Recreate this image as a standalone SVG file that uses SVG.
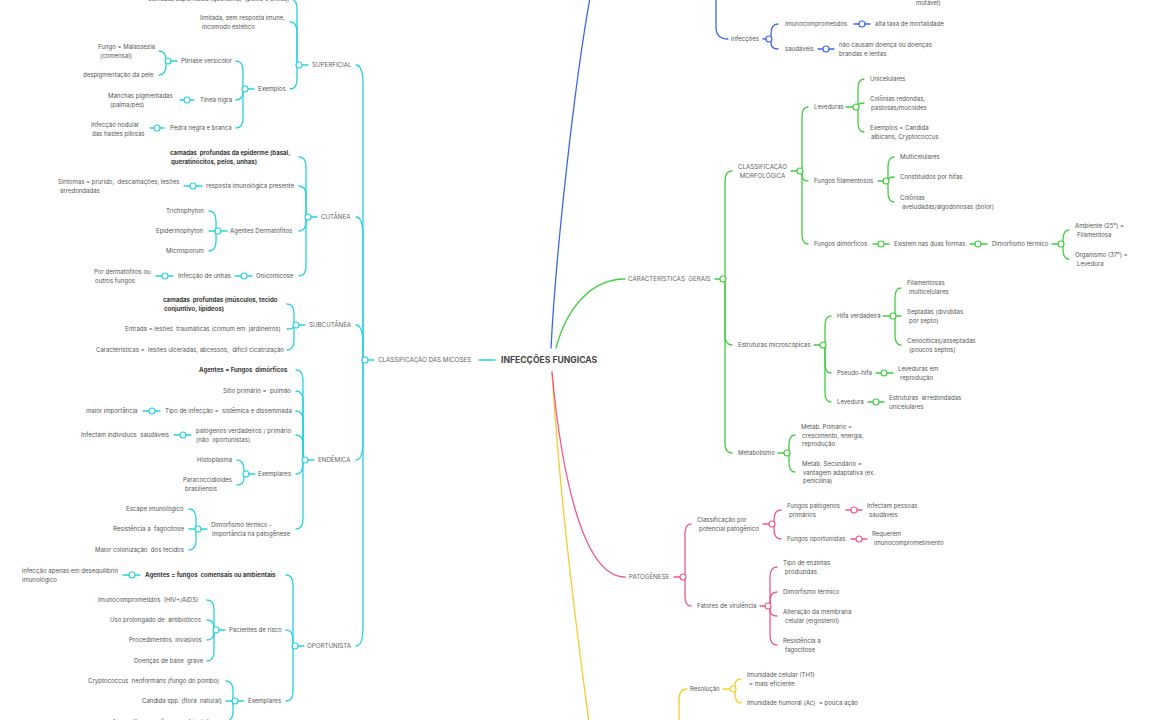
<svg xmlns="http://www.w3.org/2000/svg" width="1150" height="720" viewBox="0 0 1150 720">
<style>
text{font-family:Inter,"Liberation Sans",sans-serif;font-size:6.05px;fill:#555;white-space:pre}
.b{font-weight:bold;fill:#3a3a3a}
.u{font-size:6.2px;fill:#666}
.title{font-size:8.6px;font-weight:bold;fill:#444}
path,line{fill:none;stroke-width:1.3;stroke-linecap:round}
.c{stroke:#27d3de}.bl{stroke:#3b67f0}.g{stroke:#3fcf3f}.p{stroke:#f2588b}.y{stroke:#f8cb2c}
circle{fill:#fff;stroke-width:1.2}
</style>
<rect width="1150" height="720" fill="#fff"/>
<g id="connectors">
<path class="bl" d="M551 348 C556 250 575 80 590 -2"/>
<path class="g" d="M556 348 C566 310 590 279 625 279"/>
<path class="y" d="M552 372 C560 500 575 620 589 722"/>
<path class="p" d="M552 372 C560 460 580 577 625 577"/>
<line class="c" x1="479" y1="360" x2="495" y2="360"/>
<path class="c" d="M356 65 Q363 65 363 85 L363 360"/>
<path class="c" d="M356 217 Q363 217 363 237 L363 360"/>
<path class="c" d="M356 325 Q363 325 363 345 L363 360"/>
<path class="c" d="M356 460 Q363 460 363 440 L363 360"/>
<path class="c" d="M356 646 Q363 646 363 626 L363 360"/>
<line class="c" x1="368" y1="360" x2="374" y2="360"/>
<path class="c" d="M290 -1 Q297 -1 297 9 L297 65"/>
<path class="c" d="M290 22 Q297 22 297 32 L297 65"/>
<path class="c" d="M290 89 Q297 89 297 79 L297 65"/>
<line class="c" x1="302" y1="65" x2="308" y2="65"/>
<path class="c" d="M236 61 Q243 61 243 71 L243 89"/>
<path class="c" d="M236 100 Q243 100 243 91 L243 89"/>
<path class="c" d="M236 128 Q243 128 243 118 L243 89"/>
<line class="c" x1="248" y1="89" x2="254" y2="89"/>
<path class="c" d="M159 51 Q166 51 166 61"/>
<path class="c" d="M159 75 Q166 75 166 65 L166 61"/>
<line class="c" x1="171" y1="61" x2="177" y2="61"/>
<line class="c" x1="180" y1="100" x2="194" y2="100"/>
<line class="c" x1="150" y1="128" x2="164" y2="128"/>
<path class="c" d="M299 157 Q306 157 306 167 L306 217"/>
<path class="c" d="M299 186 Q306 186 306 196 L306 217"/>
<path class="c" d="M299 231 Q306 231 306 221 L306 217"/>
<path class="c" d="M299 276 Q306 276 306 266 L306 217"/>
<line class="c" x1="311" y1="217" x2="317" y2="217"/>
<line class="c" x1="184" y1="186" x2="202" y2="186"/>
<path class="c" d="M209 211 Q216 211 216 221 L216 231"/>
<line class="c" x1="209" y1="231" x2="216" y2="231"/>
<path class="c" d="M209 251 Q216 251 216 241 L216 231"/>
<line class="c" x1="221" y1="231" x2="227" y2="231"/>
<line class="c" x1="235" y1="276" x2="252" y2="276"/>
<line class="c" x1="156" y1="276" x2="173" y2="276"/>
<path class="c" d="M287 304 Q294 304 294 314 L294 325"/>
<path class="c" d="M287 329 Q294 329 294 326 L294 325"/>
<path class="c" d="M287 350 Q294 350 294 340 L294 325"/>
<line class="c" x1="299" y1="325" x2="305" y2="325"/>
<path class="c" d="M296 370 Q303 370 303 380 L303 460"/>
<path class="c" d="M296 391 Q303 391 303 401 L303 460"/>
<path class="c" d="M296 411 Q303 411 303 421 L303 460"/>
<path class="c" d="M296 435 Q303 435 303 445 L303 460"/>
<path class="c" d="M296 474 Q303 474 303 464 L303 460"/>
<path class="c" d="M296 529 Q303 529 303 519 L303 460"/>
<line class="c" x1="308" y1="460" x2="314" y2="460"/>
<line class="c" x1="143" y1="411" x2="160" y2="411"/>
<line class="c" x1="174" y1="435" x2="191" y2="435"/>
<path class="c" d="M237 460 Q244 460 244 470 L244 474"/>
<path class="c" d="M237 485 Q244 485 244 478 L244 474"/>
<line class="c" x1="249" y1="474" x2="255" y2="474"/>
<path class="c" d="M189 509 Q196 509 196 519 L196 529"/>
<line class="c" x1="189" y1="529" x2="196" y2="529"/>
<path class="c" d="M189 550 Q196 550 196 540 L196 529"/>
<line class="c" x1="201" y1="529" x2="207" y2="529"/>
<path class="c" d="M286 575 Q293 575 293 585 L293 646"/>
<path class="c" d="M286 630 Q293 630 293 640 L293 646"/>
<path class="c" d="M286 701 Q293 701 293 691 L293 646"/>
<line class="c" x1="298" y1="646" x2="304" y2="646"/>
<line class="c" x1="123" y1="575" x2="140" y2="575"/>
<path class="c" d="M207 600 Q214 600 214 610 L214 630"/>
<path class="c" d="M207 620 Q214 620 214 628 L214 630"/>
<path class="c" d="M207 640 Q214 640 214 632 L214 630"/>
<path class="c" d="M207 661 Q214 661 214 651 L214 630"/>
<line class="c" x1="219" y1="630" x2="225" y2="630"/>
<path class="c" d="M226 681 Q233 681 233 691 L233 701"/>
<line class="c" x1="226" y1="701" x2="233" y2="701"/>
<path class="c" d="M226 721 Q233 721 233 711 L233 701"/>
<line class="c" x1="238" y1="701" x2="244" y2="701"/>
<path class="bl" d="M907 -12 L907 -6 Q907 -1 914 -1"/>
<path class="bl" d="M716 -2 L716 27 Q716 39 728 39"/>
<line class="bl" x1="763" y1="39" x2="766" y2="39"/>
<path class="bl" d="M778 24 Q771 24 771 34 L771 39"/>
<path class="bl" d="M778 49 Q771 49 771 43 L771 39"/>
<line class="bl" x1="854" y1="24" x2="870" y2="24"/>
<line class="bl" x1="818" y1="49" x2="834" y2="49"/>
<line class="g" x1="715" y1="279" x2="720" y2="279"/>
<path class="g" d="M732 171 Q725 171 725 181 L725 279"/>
<path class="g" d="M732 345 Q725 345 725 335 L725 279"/>
<path class="g" d="M732 453 Q725 453 725 443 L725 279"/>
<line class="g" x1="791" y1="171" x2="797" y2="171"/>
<path class="g" d="M808 107 Q802 107 802 117 L802 171"/>
<path class="g" d="M808 181 Q802 181 802 175 L802 171"/>
<path class="g" d="M808 244 Q802 244 802 234 L802 171"/>
<line class="g" x1="846" y1="107" x2="853" y2="107"/>
<path class="g" d="M864 79 Q858 79 858 89 L858 107"/>
<path class="g" d="M864 103 Q858 103 858 106 L858 107"/>
<path class="g" d="M864 132 Q858 132 858 122 L858 107"/>
<line class="g" x1="878" y1="181" x2="883" y2="181"/>
<path class="g" d="M894 157 Q888 157 888 167 L888 181"/>
<path class="g" d="M894 177 Q888 177 888 180 L888 181"/>
<path class="g" d="M894 202 Q888 202 888 192 L888 181"/>
<line class="g" x1="873" y1="244" x2="889" y2="244"/>
<line class="g" x1="970" y1="244" x2="987" y2="244"/>
<line class="g" x1="1052" y1="244" x2="1058" y2="244"/>
<path class="g" d="M1069 230 Q1063 230 1063 240 L1063 244"/>
<path class="g" d="M1069 259 Q1063 259 1063 249 L1063 244"/>
<line class="g" x1="814" y1="345" x2="820" y2="345"/>
<path class="g" d="M831 316 Q825 316 825 326 L825 345"/>
<path class="g" d="M831 373 Q825 373 825 363 L825 345"/>
<path class="g" d="M831 402 Q825 402 825 392 L825 345"/>
<line class="g" x1="883" y1="316" x2="890" y2="316"/>
<path class="g" d="M901 288 Q895 288 895 298 L895 316"/>
<line class="g" x1="895" y1="316" x2="901" y2="316"/>
<path class="g" d="M901 345 Q895 345 895 335 L895 316"/>
<line class="g" x1="876" y1="373" x2="893" y2="373"/>
<line class="g" x1="868" y1="402" x2="884" y2="402"/>
<line class="g" x1="778" y1="453" x2="784" y2="453"/>
<path class="g" d="M795 435 Q789 435 789 445 L789 453"/>
<path class="g" d="M795 472 Q789 472 789 462 L789 453"/>
<line class="p" x1="674" y1="577" x2="680" y2="577"/>
<path class="p" d="M691 524 Q685 524 685 534 L685 577"/>
<path class="p" d="M691 606 Q685 606 685 596 L685 577"/>
<line class="p" x1="763" y1="524" x2="769" y2="524"/>
<path class="p" d="M781 510 Q774 510 774 520 L774 524"/>
<path class="p" d="M781 539 Q774 539 774 529 L774 524"/>
<line class="p" x1="846" y1="510" x2="862" y2="510"/>
<line class="p" x1="851" y1="539" x2="867" y2="539"/>
<line class="p" x1="760" y1="606" x2="765" y2="606"/>
<path class="p" d="M777 567 Q770 567 770 577 L770 606"/>
<path class="p" d="M777 592 Q770 592 770 602 L770 606"/>
<path class="p" d="M777 616 Q770 616 770 610 L770 606"/>
<path class="p" d="M777 645 Q770 645 770 635 L770 606"/>
<path class="y" d="M679 722 L679 700 Q679 689 687 689"/>
<line class="y" x1="723" y1="689" x2="730" y2="689"/>
<path class="y" d="M741 679 Q735 679 735 685 L735 689"/>
<path class="y" d="M741 703 Q735 703 735 693 L735 689"/>
</g>
<g id="junctions">
<circle class="c" cx="365" cy="360" r="3"/>
<circle class="c" cx="299" cy="65" r="3"/>
<circle class="c" cx="245" cy="89" r="3"/>
<circle class="c" cx="168" cy="61" r="3"/>
<circle class="c" cx="187" cy="100" r="3"/>
<circle class="c" cx="157" cy="128" r="3"/>
<circle class="c" cx="308" cy="217" r="3"/>
<circle class="c" cx="193" cy="186" r="3"/>
<circle class="c" cx="218" cy="231" r="3"/>
<circle class="c" cx="244" cy="276" r="3"/>
<circle class="c" cx="165" cy="276" r="3"/>
<circle class="c" cx="296" cy="325" r="3"/>
<circle class="c" cx="305" cy="460" r="3"/>
<circle class="c" cx="152" cy="411" r="3"/>
<circle class="c" cx="183" cy="435" r="3"/>
<circle class="c" cx="246" cy="474" r="3"/>
<circle class="c" cx="198" cy="529" r="3"/>
<circle class="c" cx="295" cy="646" r="3"/>
<circle class="c" cx="132" cy="575" r="3"/>
<circle class="c" cx="216" cy="630" r="3"/>
<circle class="c" cx="235" cy="701" r="3"/>
<circle class="bl" cx="769" cy="39" r="3"/>
<circle class="bl" cx="862" cy="24" r="3"/>
<circle class="bl" cx="826" cy="49" r="3"/>
<circle class="g" cx="723" cy="279" r="3"/>
<circle class="g" cx="800" cy="171" r="3"/>
<circle class="g" cx="856" cy="107" r="3"/>
<circle class="g" cx="886" cy="181" r="3"/>
<circle class="g" cx="881" cy="244" r="3"/>
<circle class="g" cx="978" cy="244" r="3"/>
<circle class="g" cx="1061" cy="244" r="3"/>
<circle class="g" cx="823" cy="345" r="3"/>
<circle class="g" cx="893" cy="316" r="3"/>
<circle class="g" cx="884" cy="373" r="3"/>
<circle class="g" cx="876" cy="402" r="3"/>
<circle class="g" cx="787" cy="453" r="3"/>
<circle class="p" cx="683" cy="577" r="3"/>
<circle class="p" cx="772" cy="524" r="3"/>
<circle class="p" cx="854" cy="510" r="3"/>
<circle class="p" cx="859" cy="539" r="3"/>
<circle class="p" cx="768" cy="606" r="3"/>
<circle class="y" cx="733" cy="689" r="3"/>
</g>
<g id="n-root"><text class="title" x="501" y="363">INFECÇÕES FUNGICAS</text></g>
<g id="n-classif-micoses"><text class="u" x="378" y="362.3">CLASSIFICAÇÃO DAS MICOSES</text></g>
<g id="n-superficial"><text class="u" x="312" y="67.3">SUPERFICIAL</text></g>
<g id="n-sup-top"><text x="148" y="1">camadas superficiais (queratina)  (pelos e unhas)</text></g>
<g id="n-sup-limitada"><text x="200" y="20.3">limitada, sem resposta imune,</text><text x="202" y="28.8">incomodo estético</text></g>
<g id="n-sup-exemplos"><text x="258" y="91.3">Exemplos</text></g>
<g id="n-ptiriase"><text x="181" y="63.3">Ptiríase versicolor</text></g>
<g id="n-malassezia"><text x="98" y="49.3">Fungo = Malassezia</text><text x="100" y="57.8">(comensal)</text></g>
<g id="n-despig"><text x="83" y="77.3">despigmentação da pele</text></g>
<g id="n-tinea"><text x="200" y="102.3">Tinea nigra</text></g>
<g id="n-manchas"><text x="108" y="98.3">Manchas pigmentadas</text><text x="110" y="106.8">(palma/pés)</text></g>
<g id="n-pedra"><text x="170" y="130.3">Pedra negra e branca</text></g>
<g id="n-nodular"><text x="91" y="127.3">Infecção nodular</text><text x="92" y="135.8">das hastes pilosas</text></g>
<g id="n-cutanea"><text class="u" x="321" y="219.3">CUTÂNEA</text></g>
<g id="n-cut-camadas"><text class="b" x="170" y="155.3">camadas  profundas da epiderme (basal,</text><text class="b" x="171" y="163.8">queratinócitos, pelos, unhas)</text></g>
<g id="n-resposta"><text x="206" y="188.3">resposta imunológica presente</text></g>
<g id="n-sintomas"><text x="58" y="184.3">Sintomas = prurido,  descamações, lesões</text><text x="60" y="192.8">arredondadas</text></g>
<g id="n-dermatofitos"><text x="230" y="233.3">Agentes Dermatófitos</text></g>
<g id="n-tricho"><text x="166" y="213.3">Trichophyton</text></g>
<g id="n-epidermo"><text x="156" y="233.3">Epidermophyton</text></g>
<g id="n-micros"><text x="166" y="253.3">Microsporum</text></g>
<g id="n-onico"><text x="256" y="278.3">Onicomicose</text></g>
<g id="n-inf-unhas"><text x="178" y="278.3">Infecção de unhas</text></g>
<g id="n-por-derm"><text x="94" y="274.3">Por dermatófitos ou</text><text x="95" y="282.8">outros fungos</text></g>
<g id="n-subcutanea"><text class="u" x="309" y="327.3">SUBCUTÂNEA</text></g>
<g id="n-sub-camadas"><text class="b" x="163" y="302.3">camadas  profundas (músculos, tecido</text><text class="b" x="164" y="310.8">conjuntivo, lipídeos)</text></g>
<g id="n-entrada"><text x="125" y="331.3">Entrada = lesões  traumáticas (comum em  jardineiros)</text></g>
<g id="n-caract"><text x="96" y="352.3">Características =  lesões ulceradas, abcessos,  difícil cicatrização</text></g>
<g id="n-endemica"><text class="u" x="318" y="462.3">ENDÊMICA</text></g>
<g id="n-end-agentes"><text class="b" x="199" y="372.3">Agentes = Fungos  dimórficos</text></g>
<g id="n-sitio"><text x="223" y="393.3">Sítio primário =  pulmão</text></g>
<g id="n-tipo"><text x="165" y="413.3">Tipo de infecção =  sistêmica e disseminada</text></g>
<g id="n-maior-imp"><text x="86" y="413.3">maior importância</text></g>
<g id="n-patogenos"><text x="196" y="433.3">patógenos verdadeiros / primário</text><text x="196" y="441.8">(não  oportunistas)</text></g>
<g id="n-infectam"><text x="81" y="437.3">Infectam indivíduos  saudáveis</text></g>
<g id="n-end-exemplares"><text x="258" y="476.3">Exemplares</text></g>
<g id="n-histo"><text x="197" y="462.3">Histoplasma</text></g>
<g id="n-paracocc"><text x="183" y="482.3">Paracoccidioides</text><text x="185" y="490.8">brasiliensis</text></g>
<g id="n-dimorf"><text x="211" y="527.3">Dimorfismo térmico -</text><text x="212" y="535.8">Importância na patogênese</text></g>
<g id="n-escape"><text x="126" y="511.3">Escape imunológico</text></g>
<g id="n-resist"><text x="113" y="531.3">Resistência a  fagocitose</text></g>
<g id="n-coloniz"><text x="95" y="552.3">Maior colonização  dos tecidos</text></g>
<g id="n-oportunista"><text class="u" x="307" y="648.3">OPORTUNISTA</text></g>
<g id="n-op-agentes"><text class="b" x="145" y="577.3">Agentes = fungos  comensais ou ambientais</text></g>
<g id="n-deseq"><text x="22" y="573.3">infecção apenas em desequilíbrio</text><text x="22" y="581.8">imunológico</text></g>
<g id="n-pacientes"><text x="229" y="632.3">Pacientes de risco</text></g>
<g id="n-imunocomp"><text x="98" y="602.3">Imunocomprometidos  (HIV+/AIDS)</text></g>
<g id="n-uso"><text x="110" y="622.3">Uso prolongado de  antibióticos</text></g>
<g id="n-proced"><text x="129" y="642.3">Procedimentos  invasivos</text></g>
<g id="n-doencas"><text x="134" y="663.3">Doenças de base  grave</text></g>
<g id="n-op-exemplares"><text x="248" y="703.3">Exemplares</text></g>
<g id="n-crypto"><text x="88" y="683.3">Cryptococcus  neoformans (fungo do pombo)</text></g>
<g id="n-candida"><text x="142" y="703.3">Candida spp. (flora  natural)</text></g>
<g id="n-asperg"><text x="112" y="723.5">Aspergillus spp. (fungo ambiental)</text></g>
<g id="n-mutavel"><text x="916" y="5.3">mutável)</text></g>
<g id="n-infeccoes"><text x="731" y="41.3">infecções</text></g>
<g id="n-imuno"><text x="785" y="26.3">imunocomprometidos</text></g>
<g id="n-alta"><text x="875" y="26.3">alta taxa de mortalidade</text></g>
<g id="n-saudaveis"><text x="785" y="51.3">saudáveis</text></g>
<g id="n-naocausam"><text x="839" y="47.3">não causam doença ou doenças</text><text x="839" y="55.8">brandas e lentas</text></g>
<g id="n-caracteristicas"><text class="u" x="628" y="281.3">CARACTERÍSTICAS  GERAIS</text></g>
<g id="n-morfo"><text class="u" x="762.5" y="169.3" text-anchor="middle">CLASSIFICAÇÃO</text><text class="u" x="762.5" y="177.8" text-anchor="middle">MORFOLÓGICA</text></g>
<g id="n-leveduras"><text x="814" y="109.3">Leveduras</text></g>
<g id="n-unicel"><text x="870" y="81.3">Unicelulares</text></g>
<g id="n-colonias-red"><text x="870" y="101.3">Colônias redondas,</text><text x="871" y="109.8">pastosas/mucoides</text></g>
<g id="n-exemplos-cand"><text x="870" y="130.3">Exemplos = Candida</text><text x="871" y="138.8">albicans, Cryptococcus</text></g>
<g id="n-filament"><text x="814" y="183.3">Fungos filamentosos</text></g>
<g id="n-multicel"><text x="900" y="159.3">Multicelulares</text></g>
<g id="n-constit"><text x="900" y="179.3">Constituídos por hifas</text></g>
<g id="n-colonias-av"><text x="900" y="200.3">Colônias</text><text x="902" y="208.8">aveludadas/algodonosas (bolor)</text></g>
<g id="n-dimorficos"><text x="814" y="246.3">Fungos dimórficos</text></g>
<g id="n-existem"><text x="894" y="246.3">Existem nas duas formas</text></g>
<g id="n-dim-termico"><text x="992" y="246.3">Dimorfismo térmico</text></g>
<g id="n-ambiente"><text x="1075" y="228.3">Ambiente (25°) =</text><text x="1077" y="236.8">Filamentosa</text></g>
<g id="n-organismo"><text x="1075" y="257.3">Organismo (37°) =</text><text x="1077" y="265.8">Levedura</text></g>
<g id="n-estruturas"><text x="738" y="347.3">Estruturas microscópicas</text></g>
<g id="n-hifa"><text x="837" y="318.3">Hifa verdadeira</text></g>
<g id="n-filmult"><text x="907" y="285.3">Filamentosas</text><text x="909" y="293.8">multicelulares</text></g>
<g id="n-septadas"><text x="907" y="314.3">Septadas (divididas</text><text x="909" y="322.8">por septo)</text></g>
<g id="n-cenociticas"><text x="907" y="343.3">Cenocíticas/asseptadas</text><text x="909" y="351.8">(poucos septos)</text></g>
<g id="n-pseudo"><text x="837" y="375.3">Pseudo-hifa</text></g>
<g id="n-lev-repro"><text x="898" y="371.3">Leveduras em</text><text x="900" y="379.8">reprodução</text></g>
<g id="n-levedura"><text x="837" y="404.3">Levedura</text></g>
<g id="n-estr-arr"><text x="889" y="400.3">Estruturas  arredondadas</text><text x="889" y="408.8">unicelulares</text></g>
<g id="n-metab"><text x="738" y="455.3">Metabolismo</text></g>
<g id="n-metab1"><text x="801" y="429.3">Metab. Primário =</text><text x="802" y="437.8">crescimento, energia,</text><text x="802" y="446.3">reprodução</text></g>
<g id="n-metab2"><text x="802" y="466.3">Metab. Secundário =</text><text x="803" y="474.8">vantagem adaptativa (ex.</text><text x="803" y="483.3">penicilina)</text></g>
<g id="n-patogenese"><text class="u" x="629" y="579.3">PATOGÊNESE</text></g>
<g id="n-classif-pot"><text x="697" y="522.3">Classificação por</text><text x="699" y="530.8">potencial patogênico</text></g>
<g id="n-fung-prim"><text x="787" y="508.3">Fungos patógenos</text><text x="789" y="516.8">primários</text></g>
<g id="n-inf-pessoas"><text x="867" y="508.3">Infectam pessoas</text><text x="869" y="516.8">saudáveis</text></g>
<g id="n-fung-oport"><text x="787" y="541.3">Fungos oportunistas</text></g>
<g id="n-requerem"><text x="872" y="536.3">Requerem</text><text x="874" y="544.8">imunocomprometimento</text></g>
<g id="n-fatores"><text x="697" y="608.3">Fatores de virulência</text></g>
<g id="n-enzimas"><text x="783" y="565.3">Tipo de enzimas</text><text x="785" y="573.8">produzidas</text></g>
<g id="n-dim-term2"><text x="783" y="594.3">Dimorfismo térmico</text></g>
<g id="n-alteracao"><text x="783" y="614.3">Alteração da membrana</text><text x="785" y="622.8">celular (ergosterol)</text></g>
<g id="n-resist2"><text x="783" y="643.3">Resistência a</text><text x="785" y="651.8">fagocitose</text></g>
<g id="n-resolucao"><text x="690" y="691.3">Resolução</text></g>
<g id="n-imun-cel"><text x="747" y="677.3">Imunidade celular (TH1)</text><text x="749" y="685.8">= mais eficiente</text></g>
<g id="n-imun-hum"><text x="747" y="705.3">Imunidade humoral (Ac)  = pouca ação</text></g>
</svg>
